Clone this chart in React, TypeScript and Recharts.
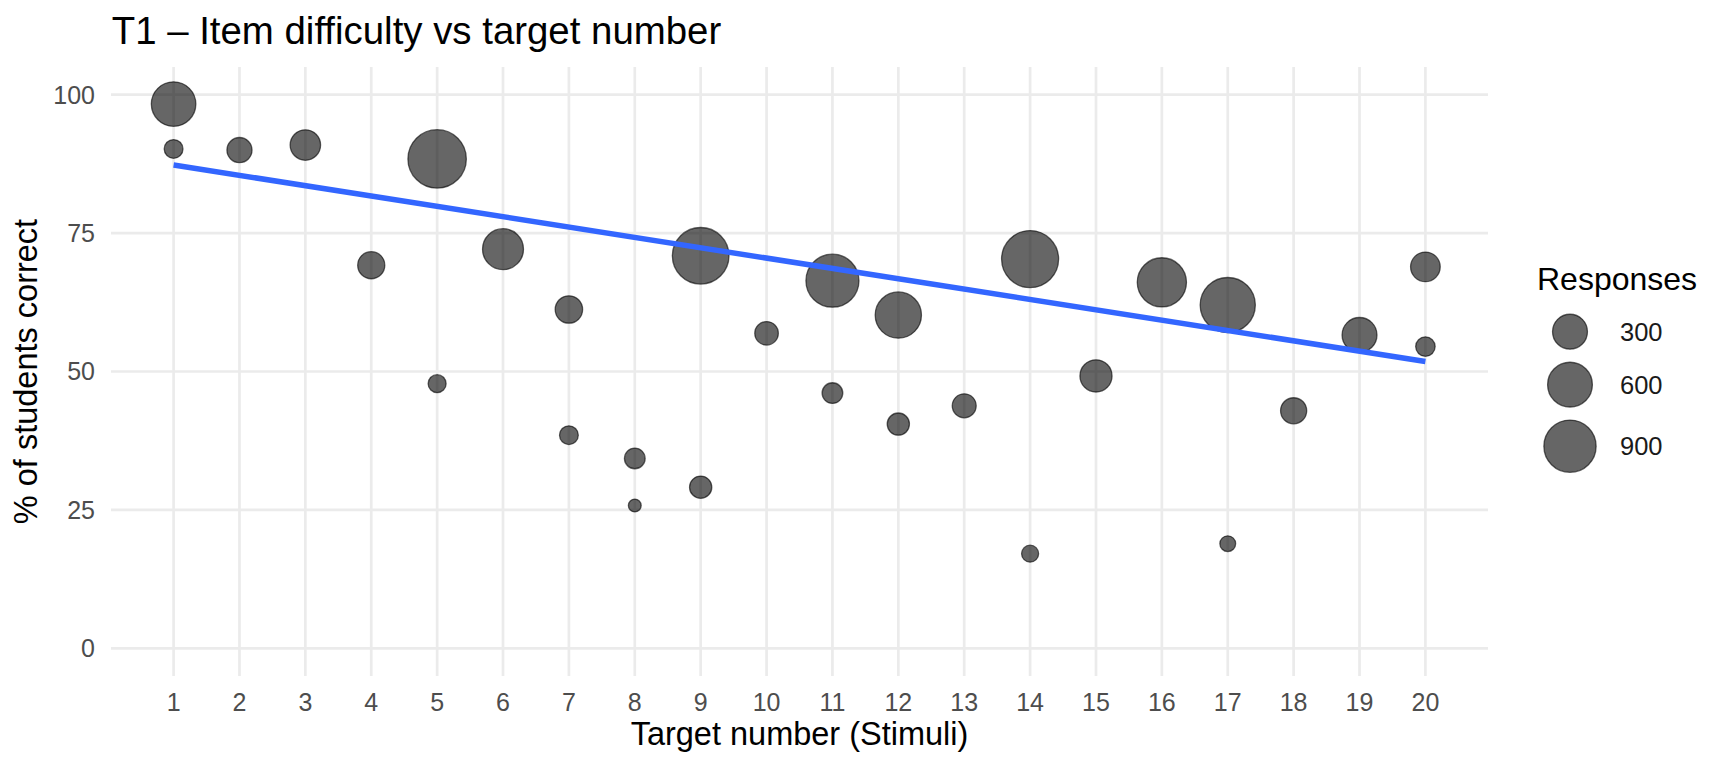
import { ScatterChart, Scatter, XAxis, YAxis, CartesianGrid } from "recharts";

// one entry per item: target number, % correct, number of responses
const TARGETS = [1, 1, 2, 3, 4, 5, 5, 6, 7, 7, 8, 8, 9, 9, 10, 11, 11, 12, 12, 13, 14, 14, 15, 16, 17, 17, 18, 19, 20, 20];
const PCT_CORRECT = [98.3, 90.2, 90.0, 90.9, 69.2, 88.4, 47.8, 72.1, 61.2, 38.5, 34.3, 25.8, 70.9, 29.1, 56.9, 66.4, 46.1, 60.2, 40.5, 43.8, 70.3, 17.1, 49.2, 66.1, 62.0, 18.9, 42.9, 56.6, 68.9, 54.5];
const RESPONSES = [590, 45, 110, 200, 140, 1195, 40, 470, 145, 45, 60, 25, 1105, 75, 90, 935, 60, 655, 75, 95, 1125, 35, 235, 770, 1035, 30, 125, 300, 185, 50];

// fitted line at both ends
const TREND_X = [1, 20];
const TREND_Y = [87.3, 51.8];

const X_TICKS = [1, 2, 3, 4, 5, 6, 7, 8, 9, 10, 11, 12, 13, 14, 15, 16, 17, 18, 19, 20];
const Y_TICKS = [0, 25, 50, 75, 100];
const LEGEND_VALUES = [300, 600, 900];

const FONT = '"Liberation Sans", Arial, Helvetica, sans-serif';
const W = 1728;
const H = 768;

const points = TARGETS.map((x, i) => ({ x, pct: PCT_CORRECT[i], n: RESPONSES[i] }));
const trend = TREND_X.map((x, i) => ({ x, pct: TREND_Y[i] }));

// ggplot-style area scale: radius grows with sqrt of the rescaled value
const N_MIN = Math.min(...RESPONSES);
const N_MAX = Math.max(...RESPONSES);
const R_MIN = 6.4;
const R_MAX = 29.2;
function radius(n: number) {
  const t = Math.max(0, (n - N_MIN) / (N_MAX - N_MIN));
  return R_MIN + (R_MAX - R_MIN) * Math.sqrt(t);
}

function Bubble(props: any) {
  const { cx, cy, payload } = props;
  if (cx == null || cy == null) return <g />;
  return (
    <circle
      cx={cx}
      cy={cy}
      r={radius(payload.n)}
      fill="#000"
      fillOpacity={0.6}
      stroke="#000"
      strokeOpacity={0.6}
      strokeWidth={1.3}
    />
  );
}

function YTitle(props: any) {
  const vb = props.viewBox || { x: 0, y: 67, width: 111, height: 609 };
  const x = vb.x + 37;
  const y = vb.y + vb.height / 2;
  return (
    <text x={x} y={y} transform={`rotate(-90, ${x}, ${y})`} textAnchor="middle" fontSize={32.5} fill="#000">
      % of students correct
    </text>
  );
}

function SizeLegend() {
  let y = 331.7;
  const rows = LEGEND_VALUES.map((v, i) => {
    if (i > 0) {
      const prev = radius(LEGEND_VALUES[i - 1]) + 0.7;
      y += prev + radius(v) + 0.7 + 11.7;
    }
    return { v, y };
  });
  return (
    <svg width={W} height={H} style={{ position: "absolute", left: 0, top: 0, pointerEvents: "none" }}>
      <text x={111.7} y={44.3} fontSize={38.4} fill="#000">
        T1 – Item difficulty vs target number
      </text>
      <text x={1537} y={290} fontSize={32} fill="#000">
        Responses
      </text>
      {rows.map((r) => (
        <g key={r.v}>
          <circle
            cx={1570}
            cy={r.y}
            r={radius(r.v)}
            fill="#000"
            fillOpacity={0.6}
            stroke="#000"
            strokeOpacity={0.6}
            strokeWidth={1.3}
          />
          <text x={1620} y={r.y + 9} fontSize={25.5} fill="#1a1a1a">
            {r.v}
          </text>
        </g>
      ))}
    </svg>
  );
}

export default function App() {
  return (
    <div style={{ position: "relative", width: W, height: H, fontFamily: FONT, background: "#fff" }}>
      <style>{`body { margin: 0; }`}</style>
      <ScatterChart width={W} height={H} margin={{ top: 67, right: 240, bottom: 0, left: 0 }}>
        <CartesianGrid stroke="#ebebeb" strokeWidth={2.7} syncWithTicks />
        <XAxis
          type="number"
          dataKey="x"
          domain={[0.05, 20.95]}
          ticks={X_TICKS}
          interval={0}
          height={92}
          axisLine={false}
          tickLine={false}
          tickSize={0}
          tickMargin={17}
          tick={{ fill: "#4d4d4d", fontSize: 25 }}
          label={{ value: "Target number (Stimuli)", position: "insideBottom", offset: 23, fill: "#000", fontSize: 32.5 }}
        />
        <YAxis
          type="number"
          dataKey="pct"
          domain={[-5, 105]}
          ticks={Y_TICKS}
          interval={0}
          width={111}
          axisLine={false}
          tickLine={false}
          tickSize={0}
          tickMargin={16}
          tick={{ fill: "#4d4d4d", fontSize: 25 }}
          label={{ content: YTitle }}
        />
        <Scatter data={points} shape={Bubble} isAnimationActive={false} />
        <Scatter
          data={trend}
          line={{ stroke: "#3366FF", strokeWidth: 5.5 }}
          shape={() => <g />}
          isAnimationActive={false}
        />
      </ScatterChart>
      <SizeLegend />
    </div>
  );
}
